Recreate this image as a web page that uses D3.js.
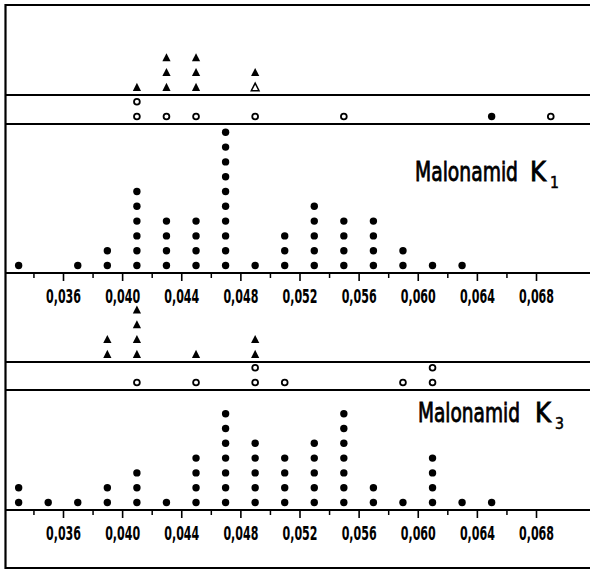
<!DOCTYPE html>
<html>
<head>
<meta charset="utf-8">
<script src="https://cdn.jsdelivr.net/npm/d3@7"></script>
<style>
  html, body { margin: 0; padding: 0; background: #fff; }
  svg { display: block; }
  text { font-family: "DejaVu Sans Condensed", "Liberation Sans Narrow", "DejaVu Sans", sans-serif; fill: #000; }
</style>
</head>
<body>
<svg id="chart" width="590" height="571"></svg>
<script>
// Class centres (width 0,002) along the shared horizontal scale
const binCenters = [0.033, 0.035, 0.037, 0.039, 0.041, 0.043, 0.045, 0.047, 0.049, 0.051,
                    0.053, 0.055, 0.057, 0.059, 0.061, 0.063, 0.065, 0.067, 0.069];

// Malonamid K1
const k1Counts        = [1, 0, 1, 2, 6, 4, 4, 10, 1, 3, 5, 4, 4, 2, 1, 1, 0, 0, 0];
const k1TrianglesOpen = [0, 0, 0, 0, 0, 0, 0, 0, 1, 0, 0, 0, 0, 0, 0, 0, 0, 0, 0];
const k1Triangles     = [0, 0, 0, 0, 1, 3, 3, 0, 1, 0, 0, 0, 0, 0, 0, 0, 0, 0, 0];
const k1BandOpen      = [0, 0, 0, 0, 2, 1, 1, 0, 1, 0, 0, 1, 0, 0, 0, 0, 0, 0, 1];
const k1BandFilled    = [0, 0, 0, 0, 0, 0, 0, 0, 0, 0, 0, 0, 0, 0, 0, 0, 1, 0, 0];

// Malonamid K3
const k3Counts        = [2, 1, 1, 2, 3, 1, 4, 7, 5, 4, 5, 7, 2, 1, 4, 1, 1, 0, 0];
const k3TrianglesOpen = [0, 0, 0, 0, 0, 0, 0, 0, 0, 0, 0, 0, 0, 0, 0, 0, 0, 0, 0];
const k3Triangles     = [0, 0, 0, 2, 4, 0, 1, 0, 2, 0, 0, 0, 0, 0, 0, 0, 0, 0, 0];
const k3BandOpen      = [0, 0, 0, 0, 1, 0, 1, 0, 2, 1, 0, 0, 0, 1, 2, 0, 0, 0, 0];
const k3BandFilled    = [0, 0, 0, 0, 0, 0, 0, 0, 0, 0, 0, 0, 0, 0, 0, 0, 0, 0, 0];

// Axis ticks
const majorTicks = [0.036, 0.040, 0.044, 0.048, 0.052, 0.056, 0.060, 0.064, 0.068];
const tickLabels = ["0,036", "0,040", "0,044", "0,048", "0,052", "0,056", "0,060", "0,064", "0,068"];
const minorTicks = [0.034, 0.038, 0.042, 0.046, 0.050, 0.054, 0.058, 0.062, 0.066];

const panelTitles = ["Malonamid", "Malonamid"];
const panelSubs   = ["1", "3"];

const W = 590, H = 571;
const svg = d3.select("#chart");

const x = d3.scaleLinear().domain([0.036, 0.068]).range([63, 536]);
const step = 14.8;   // one stacked mark

// frame
const frame = svg.append("g").attr("stroke", "#000").attr("stroke-width", 2.2).attr("fill", "none");
frame.append("line").attr("x1", 5).attr("x2", W).attr("y1", 5).attr("y2", 5);
frame.append("line").attr("x1", 5).attr("x2", W).attr("y1", 568).attr("y2", 568);
frame.append("line").attr("x1", 5.5).attr("x2", 5.5).attr("y1", 4).attr("y2", 569);

function expand(counts) {
  const out = [];
  counts.forEach((c, i) => { for (let k = 0; k < c; k++) out.push({ v: binCenters[i], k }); });
  return out;
}

function triPath(cx, cy, s) {
  return `M${cx},${cy - s * 0.62}L${cx + s * 0.55},${cy + s * 0.45}L${cx - s * 0.55},${cy + s * 0.45}Z`;
}

// text squeezed horizontally to a given width
function narrowText(g, str, x0, y0, width, size) {
  const t = g.append("text").attr("font-size", size)
    .attr("stroke", "#000").attr("stroke-width", 0.8);
  const main = t.append("tspan").attr("x", 0).text(str);
  const sx = width / main.node().getComputedTextLength();
  t.attr("transform", `translate(${x0},${y0}) scale(${sx},1)`);
  return { t, sx };
}

function drawPanel(cfg) {
  const g = svg.append("g");
  const { axisY, bandTop, bandBottom } = cfg;

  // band lines
  g.append("line").attr("x1", 5).attr("x2", W).attr("y1", bandTop).attr("y2", bandTop)
    .attr("stroke", "#000").attr("stroke-width", 2);
  g.append("line").attr("x1", 5).attr("x2", W).attr("y1", bandBottom).attr("y2", bandBottom)
    .attr("stroke", "#000").attr("stroke-width", 2);

  // histogram stacks
  const yDot = d3.scaleLinear().domain([0, 1]).range([axisY - 7.5, axisY - 7.5 - step]);
  g.append("g").selectAll("circle").data(expand(cfg.counts)).join("circle")
    .attr("cx", d => x(d.v)).attr("cy", d => yDot(d.k)).attr("r", 3.7).attr("fill", "#000");

  // triangles above the band
  const yTri = d3.scaleLinear().domain([0, 1]).range([bandTop - 7.5, bandTop - 7.5 - step]);
  const openTri = expand(cfg.trianglesOpen);
  const offset = {};
  openTri.forEach(d => { offset[d.v] = (offset[d.v] || 0) + 1; });
  g.append("g").selectAll("path.open").data(openTri).join("path")
    .attr("d", d => triPath(x(d.v), yTri(d.k), 7))
    .attr("fill", "#fff").attr("stroke", "#000").attr("stroke-width", 1.5);
  g.append("g").selectAll("path.fill").data(expand(cfg.triangles)).join("path")
    .attr("d", d => triPath(x(d.v), yTri(d.k + (offset[d.v] || 0)), 7.5))
    .attr("fill", "#000");

  // circles inside the band
  const yBand = d3.scaleLinear().domain([0, 1]).range([bandBottom - 7.5, bandBottom - 7.5 - step]);
  g.append("g").selectAll("circle").data(expand(cfg.bandOpen)).join("circle")
    .attr("cx", d => x(d.v)).attr("cy", d => yBand(d.k)).attr("r", 2.9)
    .attr("fill", "#fff").attr("stroke", "#000").attr("stroke-width", 1.8);
  g.append("g").selectAll("circle").data(expand(cfg.bandFilled)).join("circle")
    .attr("cx", d => x(d.v)).attr("cy", d => yBand(d.k)).attr("r", 3.7).attr("fill", "#000");

  // axis line
  g.append("line").attr("x1", 5).attr("x2", W).attr("y1", axisY).attr("y2", axisY)
    .attr("stroke", "#000").attr("stroke-width", 2);

  // minor ticks
  const minor = g.append("g").attr("transform", `translate(0,${axisY})`)
    .call(d3.axisBottom(x).tickValues(minorTicks).tickSize(5).tickFormat(""));
  minor.select(".domain").remove();
  minor.selectAll(".tick line").attr("stroke-width", 1.5).attr("y1", -1);

  // major ticks with labels
  const major = g.append("g").attr("transform", `translate(0,${axisY})`)
    .call(d3.axisBottom(x).tickValues(majorTicks).tickSize(8)
      .tickFormat((d, i) => tickLabels[i]));
  major.select(".domain").remove();
  major.selectAll(".tick line").attr("stroke-width", 1.6).attr("y1", -1);
  major.selectAll(".tick text")
    .attr("y", 30).attr("dy", 0)
    .attr("font-size", 19).attr("font-weight", "bold")
    .attr("textLength", 35).attr("lengthAdjust", "spacingAndGlyphs")
    .style("font-family", "'DejaVu Sans Condensed', 'Liberation Sans Narrow', sans-serif");

  // title
  const t = cfg.title;
  narrowText(g, t.label, t.x, t.y, t.w, 26);
  const k = narrowText(g, "K", t.kx, t.y, 16, 26);
  k.t.append("tspan").attr("x", 20 / k.sx).attr("dy", 7)
    .attr("font-size", 15).attr("stroke-width", 0.5).text(t.sub);
}

drawPanel({
  axisY: 273, bandTop: 95, bandBottom: 124,
  counts: k1Counts, triangles: k1Triangles, trianglesOpen: k1TrianglesOpen,
  bandOpen: k1BandOpen, bandFilled: k1BandFilled,
  title: { label: panelTitles[0], sub: panelSubs[0], x: 415, y: 181, w: 103, kx: 530 }
});

drawPanel({
  axisY: 510, bandTop: 362, bandBottom: 390,
  counts: k3Counts, triangles: k3Triangles, trianglesOpen: k3TrianglesOpen,
  bandOpen: k3BandOpen, bandFilled: k3BandFilled,
  title: { label: panelTitles[1], sub: panelSubs[1], x: 418, y: 422, w: 102, kx: 535 }
});
</script>
</body>
</html>
